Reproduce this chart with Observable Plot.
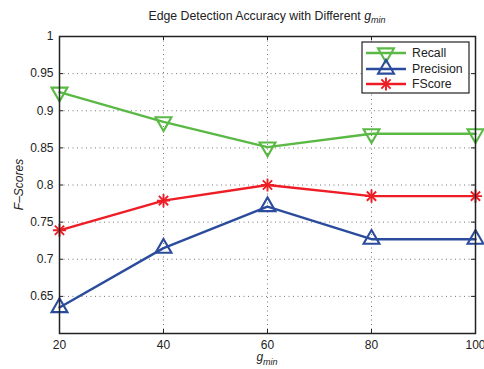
<!DOCTYPE html>
<html>
<head>
<meta charset="utf-8">
<script src="https://cdn.jsdelivr.net/npm/d3@7"></script>
<script src="https://cdn.jsdelivr.net/npm/@observablehq/plot@0.6"></script>
<style>
  body { margin: 0; background: #fff; }
  svg { font-family: "Liberation Sans", Arial, sans-serif; }
</style>
</head>
<body>
<div id="chart"></div>
<script>
const gmin = [20, 40, 60, 80, 100];
const recall = [0.925, 0.885, 0.851, 0.869, 0.869];
const precision = [0.635, 0.715, 0.771, 0.727, 0.727];
const fscore = [0.739, 0.779, 0.800, 0.785, 0.785];
const xTicks = [20, 40, 60, 80, 100];
const yTicks = [0.65, 0.7, 0.75, 0.8, 0.85, 0.9, 0.95, 1];
const seriesNames = ["Recall", "Precision", "FScore"];
const colors = {Recall: "#5ab945", Precision: "#2b4c9c", FScore: "#ee1d25"};

const rows = [];
gmin.forEach((g, i) => {
  rows.push({g, v: recall[i], s: "Recall"});
  rows.push({g, v: precision[i], s: "Precision"});
  rows.push({g, v: fscore[i], s: "FScore"});
});
const byS = s => rows.filter(d => d.s === s);

const W = 484, H = 369, mL = 59, mR = 9, mT = 36, mB = 36;
const innerH = H - mT - mB, innerW = W - mL - mR;
const starR = 4.3;

const svg = Plot.plot({
  width: W, height: H,
  marginLeft: mL, marginRight: mR, marginTop: mT, marginBottom: mB,
  style: {fontFamily: '"Liberation Sans", Arial, sans-serif', fontSize: "12px", color: "#222", background: "#fff"},
  x: {domain: [20, 100]},
  y: {domain: [0.6, 1]},
  marks: [
    Plot.ruleY(yTicks.filter(t => t < 1), {y: d => d, stroke: "#777", strokeWidth: 1, strokeDasharray: "1,3.5"}),
    Plot.ruleX(xTicks.filter(t => t > 20 && t < 100), {x: d => d, stroke: "#777", strokeWidth: 1, strokeDasharray: "1,3.5"}),
    Plot.tickX(xTicks, {x: d => d, insetTop: innerH - 4, stroke: "#222"}),
    Plot.tickX(xTicks, {x: d => d, insetBottom: innerH - 4, stroke: "#222"}),
    Plot.tickY(yTicks, {y: d => d, insetRight: innerW - 4, stroke: "#222"}),
    Plot.tickY(yTicks, {y: d => d, insetLeft: innerW - 4, stroke: "#222"}),
    Plot.axisX({ticks: xTicks, tickSize: 0, tickPadding: 7, label: null, fontSize: 12, tickFormat: d => String(d)}),
    Plot.axisY({ticks: yTicks, tickSize: 0, tickPadding: 6, label: null, fontSize: 12, tickFormat: d => String(+d.toFixed(2))}),
    Plot.line(byS("Recall"), {x: "g", y: "v", stroke: colors.Recall, strokeWidth: 2.4}),
    Plot.line(byS("Precision"), {x: "g", y: "v", stroke: colors.Precision, strokeWidth: 2.4}),
    Plot.line(byS("FScore"), {x: "g", y: "v", stroke: colors.FScore, strokeWidth: 2.4}),
    Plot.dot(byS("Recall"), {x: "g", y: "v", symbol: "triangle", rotate: 180, r: 5.9, stroke: colors.Recall, strokeWidth: 2.1, fill: "none"}),
    Plot.dot(byS("Precision"), {x: "g", y: "v", symbol: "triangle", r: 5.9, stroke: colors.Precision, strokeWidth: 2.1, fill: "none"}),
    Plot.dot(byS("FScore"), {x: "g", y: "v", symbol: "plus", r: starR, stroke: colors.FScore, strokeWidth: 1.9}),
    Plot.dot(byS("FScore"), {x: "g", y: "v", symbol: "times", r: starR, stroke: colors.FScore, strokeWidth: 1.9}),
    Plot.frame({stroke: "#222", strokeWidth: 1.5})
  ]
});
document.getElementById("chart").appendChild(svg);

const root = d3.select(svg);
const font = '"Liberation Sans", Arial, sans-serif';

// Title
const title = root.append("text")
  .attr("x", (mL + W - mR) / 2).attr("y", 19.5)
  .attr("text-anchor", "middle").attr("font-family", font).attr("font-size", 12.3).attr("fill", "#222");
title.append("tspan").text("Edge Detection Accuracy with Different ");
title.append("tspan").attr("font-style", "italic").text("g");
title.append("tspan").attr("font-style", "italic").attr("font-size", 9).attr("dy", 3).text("min");

// X label
const xl = root.append("text")
  .attr("x", (mL + W - mR) / 2).attr("y", 361)
  .attr("text-anchor", "middle").attr("font-family", font).attr("font-size", 12).attr("fill", "#222");
xl.append("tspan").attr("font-style", "italic").text("g");
xl.append("tspan").attr("font-style", "italic").attr("font-size", 9).attr("dy", 4).text("min");

// Y label
root.append("text")
  .attr("transform", `translate(23,${mT + innerH / 2}) rotate(-90)`)
  .attr("text-anchor", "middle").attr("font-family", font).attr("font-size", 12)
  .attr("font-style", "italic").attr("fill", "#222").text("F\u2013Scores");

// Legend
const lg = root.append("g");
lg.append("rect").attr("x", 362).attr("y", 42).attr("width", 107).attr("height", 51)
  .attr("fill", "#fff").attr("stroke", "#222").attr("stroke-width", 1.2);
const rowsY = [53, 69, 84];
seriesNames.forEach((s, i) => {
  const y = rowsY[i];
  lg.append("line").attr("x1", 366).attr("x2", 406).attr("y1", y).attr("y2", y)
    .attr("stroke", colors[s]).attr("stroke-width", 2.4);
  if (s === "FScore") {
    const size = Math.PI * starR * starR;
    [d3.symbolPlus, d3.symbolTimes].forEach(t => {
      lg.append("path").attr("d", d3.symbol(t, size)())
        .attr("transform", `translate(386,${y})`)
        .attr("fill", "none").attr("stroke", colors[s]).attr("stroke-width", 1.9);
    });
  } else {
    const size = Math.PI * 5.9 * 5.9;
    lg.append("path").attr("d", d3.symbol(d3.symbolTriangle, size)())
      .attr("transform", `translate(386,${y}) rotate(${s === "Recall" ? 180 : 0})`)
      .attr("fill", "none").attr("stroke", colors[s]).attr("stroke-width", 2.1);
  }
  lg.append("text").attr("x", 412).attr("y", y + 4.3).attr("font-family", font)
    .attr("text-anchor", "start")
    .attr("font-size", 12.3).attr("fill", "#222").text(s);
});
</script>
</body>
</html>
